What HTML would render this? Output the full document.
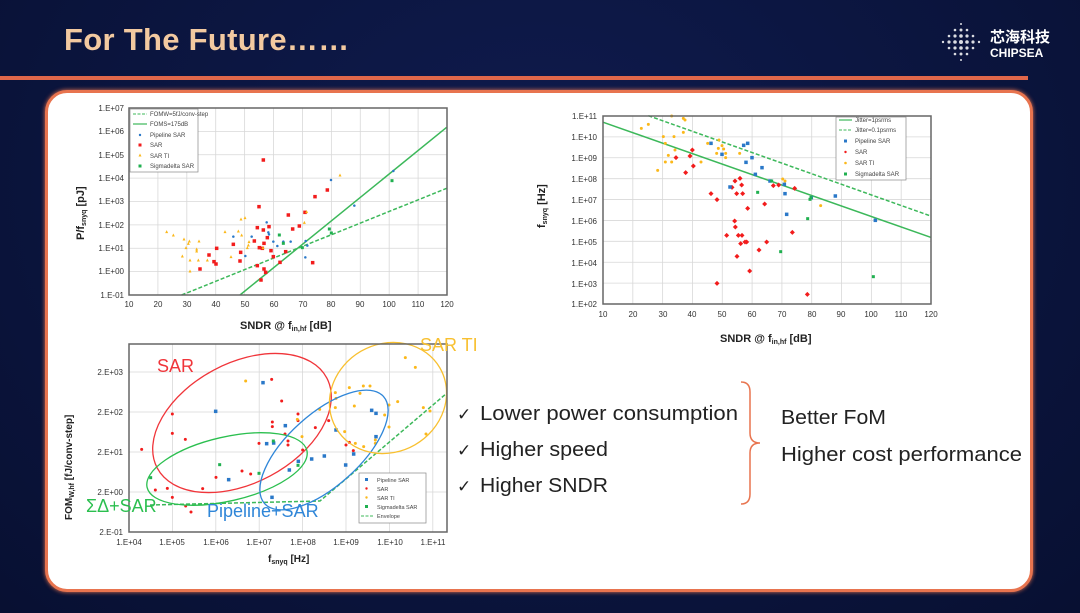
<!DOCTYPE html>
<html><head><meta charset="utf-8"><style>
html,body{margin:0;padding:0;width:1080px;height:613px;overflow:hidden;background:#0b1440;font-family:"Liberation Sans",sans-serif}
#bg{position:absolute;left:0;top:0;width:1080px;height:613px;background:radial-gradient(ellipse at 50% 30%,#0f1b4e,#081032)}
.t{position:absolute;white-space:nowrap}
</style></head><body><div id="bg"></div>
<div class="t" style="left:64px;top:22px;font-size:31px;font-weight:bold;color:#f2c9a0;letter-spacing:0.3px">For The Future……</div>
<div style="position:absolute;left:0;top:76px;width:1028px;height:4px;background:#e0674a"></div>
<div class="t" style="left:990px;top:26px;font-size:15px;color:#fff;font-family:'Liberation Sans','Noto Sans CJK SC',sans-serif;font-weight:bold">芯海科技</div>
<div class="t" style="left:990px;top:46px;font-size:12px;color:#fff;font-weight:bold">CHIPSEA</div>
<svg style="position:absolute;left:935px;top:20px" width="52" height="46"><g fill="#fff" opacity="0.85">
<circle cx="26" cy="4" r="1"/><circle cx="20" cy="10" r="1.3"/><circle cx="26" cy="10" r="1.5"/><circle cx="32" cy="10" r="1.3"/><circle cx="14" cy="16" r="1.3"/><circle cx="20" cy="16" r="1.6"/><circle cx="26" cy="16" r="1.8"/><circle cx="32" cy="16" r="1.6"/><circle cx="38" cy="16" r="1.3"/><circle cx="8" cy="22" r="1.2"/><circle cx="14" cy="22" r="1.6"/><circle cx="20" cy="22" r="1.8"/><circle cx="26" cy="22" r="2"/><circle cx="32" cy="22" r="1.8"/><circle cx="38" cy="22" r="1.6"/><circle cx="44" cy="22" r="1.2"/><circle cx="14" cy="28" r="1.3"/><circle cx="20" cy="28" r="1.6"/><circle cx="26" cy="28" r="1.8"/><circle cx="32" cy="28" r="1.6"/><circle cx="38" cy="28" r="1.3"/><circle cx="20" cy="34" r="1.3"/><circle cx="26" cy="34" r="1.5"/><circle cx="32" cy="34" r="1.3"/><circle cx="26" cy="40" r="1"/></g></svg>
<div style="position:absolute;left:45px;top:90px;width:982px;height:496px;border:3px solid #e8744f;border-radius:22px;background:#fff;box-shadow:0 0 4px #e8744f"></div>

<svg id="s" style="position:absolute;left:0;top:0" width="1080" height="613" font-family="Liberation Sans, sans-serif">
<g id="g1"></g>
<g font-size="8" fill="#333" text-anchor="end">
<text x="124" y="111">1.E+07</text><text x="124" y="134">1.E+06</text><text x="124" y="158">1.E+05</text><text x="124" y="181">1.E+04</text><text x="124" y="204">1.E+03</text><text x="124" y="228">1.E+02</text><text x="124" y="251">1.E+01</text><text x="124" y="274">1.E+00</text><text x="124" y="298">1.E-01</text>
</g>
<g font-size="8" fill="#333" text-anchor="middle">
<text x="129" y="307">10</text><text x="158" y="307">20</text><text x="187" y="307">30</text><text x="216" y="307">40</text><text x="245" y="307">50</text><text x="274" y="307">60</text><text x="303" y="307">70</text><text x="331" y="307">80</text><text x="360" y="307">90</text><text x="389" y="307">100</text><text x="418" y="307">110</text><text x="447" y="307">120</text>
</g>
<text x="240" y="329" font-size="11" font-weight="bold" fill="#222">SNDR @ f<tspan font-size="7" dy="2">in,hf</tspan><tspan dy="-2">  [dB]</tspan></text>
<text transform="translate(84,240) rotate(-90)" font-size="11" font-weight="bold" fill="#222">P/f<tspan font-size="7" dy="2">snyq</tspan><tspan dy="-2"> [pJ]</tspan></text>
<g font-size="6" fill="#444">
<text x="150" y="116">FOMW=5fJ/conv-step</text><text x="150" y="126">FOMS=175dB</text><text x="150" y="137">Pipeline SAR</text><text x="150" y="147">SAR</text><text x="150" y="158">SAR TI</text><text x="150" y="168">Sigmadelta SAR</text>
</g>
<g font-size="8" fill="#333" text-anchor="end">
<text x="597" y="119">1.E+11</text><text x="597" y="140">1.E+10</text><text x="597" y="161">1.E+09</text><text x="597" y="182">1.E+08</text><text x="597" y="203">1.E+07</text><text x="597" y="224">1.E+06</text><text x="597" y="245">1.E+05</text><text x="597" y="266">1.E+04</text><text x="597" y="287">1.E+03</text><text x="597" y="307">1.E+02</text>
</g>
<g font-size="8" fill="#333" text-anchor="middle">
<text x="603" y="317">10</text><text x="633" y="317">20</text><text x="663" y="317">30</text><text x="692" y="317">40</text><text x="722" y="317">50</text><text x="752" y="317">60</text><text x="782" y="317">70</text><text x="812" y="317">80</text><text x="841" y="317">90</text><text x="871" y="317">100</text><text x="901" y="317">110</text><text x="931" y="317">120</text>
</g>
<text x="720" y="342" font-size="11" font-weight="bold" fill="#222">SNDR @ f<tspan font-size="7" dy="2">in,hf</tspan><tspan dy="-2"> [dB]</tspan></text>
<text transform="translate(545,228) rotate(-90)" font-size="11" font-weight="bold" fill="#222">f<tspan font-size="7" dy="2">snyq</tspan><tspan dy="-2"> [Hz]</tspan></text>
<g font-size="6" fill="#444">
<text x="855" y="122">Jitter=1psrms</text><text x="855" y="132">Jitter=0.1psrms</text><text x="855" y="143">Pipeline SAR</text><text x="855" y="154">SAR</text><text x="855" y="165">SAR TI</text><text x="855" y="176">Sigmadelta SAR</text>
</g>
<g font-size="8" fill="#333" text-anchor="end">
<text x="123" y="375">2.E+03</text><text x="123" y="415">2.E+02</text><text x="123" y="455">2.E+01</text><text x="123" y="495">2.E+00</text><text x="123" y="535">2.E-01</text>
</g>
<g font-size="8" fill="#333" text-anchor="middle">
<text x="129" y="545">1.E+04</text><text x="172" y="545">1.E+05</text><text x="216" y="545">1.E+06</text><text x="259" y="545">1.E+07</text><text x="303" y="545">1.E+08</text><text x="346" y="545">1.E+09</text><text x="390" y="545">1.E+10</text><text x="433" y="545">1.E+11</text>
</g>
<text x="268" y="562" font-size="10" font-weight="bold" fill="#222">f<tspan font-size="7" dy="2">snyq</tspan><tspan dy="-2"> [Hz]</tspan></text>
<text transform="translate(72,520) rotate(-90)" font-size="10" font-weight="bold" fill="#222">FOM<tspan font-size="7" dy="2">W,hf</tspan><tspan dy="-2"> [fJ/conv-step]</tspan></text>
<g font-size="5.5" fill="#444">
<text x="377" y="482">Pipeline SAR</text><text x="377" y="491">SAR</text><text x="377" y="500">SAR TI</text><text x="377" y="509">Sigmadelta SAR</text><text x="377" y="518">Envelope</text>
</g>
<g font-family="Liberation Sans, sans-serif" font-size="18">
<text x="157" y="372" fill="#f0353a">SAR</text>
<text x="420" y="351" fill="#f8c030">SAR TI</text>
<text x="86" y="512" fill="#2bbf4f">ΣΔ+SAR</text>
<text x="207" y="517" fill="#2f86d8">Pipeline+SAR</text>
</g>
<g font-size="20" fill="#222">
<text x="457" y="420" font-size="17">✓</text><text x="480" y="420" textLength="258" lengthAdjust="spacingAndGlyphs">Lower power consumption</text>
<text x="457" y="456" font-size="17">✓</text><text x="480" y="456" textLength="128" lengthAdjust="spacingAndGlyphs">Higher speed</text>
<text x="457" y="492" font-size="17">✓</text><text x="480" y="492" textLength="128" lengthAdjust="spacingAndGlyphs">Higher SNDR</text>
<text x="781" y="424" textLength="105" lengthAdjust="spacingAndGlyphs">Better FoM</text>
<text x="781" y="461" textLength="241" lengthAdjust="spacingAndGlyphs">Higher cost performance</text>
</g>
<path d="M741,382 Q750,382 750,392 L750,433 Q750,443 760,443 Q750,443 750,453 L750,494 Q750,504 741,504" fill="none" stroke="#e8744f" stroke-width="1.5"/>
</svg>
<script>
var NS="http://www.w3.org/2000/svg",g=document.getElementById('g1');
function el(t,a){var e=document.createElementNS(NS,t);for(var k in a)e.setAttribute(k,a[k]);g.appendChild(e);return e;}
var RED="#f21c1c",BLUE="#2a78c8",YEL="#fbb81a",GRN="#20b050",LG="#3cb85a";
function plot(x0,y0,w,h,nx,ny){for(var i=1;i<ny;i++)el('line',{x1:x0,x2:x0+w,y1:y0+h*i/ny,y2:y0+h*i/ny,stroke:'#d8d8d8','stroke-width':0.8});
for(var i=1;i<nx;i++)el('line',{y1:y0,y2:y0+h,x1:x0+w*i/nx,x2:x0+w*i/nx,stroke:'#d8d8d8','stroke-width':0.8});}
function pts(ox,oy,arr,shape,col,sz){for(var i=0;i<arr.length;i++){var x=arr[i][0]/3+ox,y=arr[i][1]/3+oy;
if(shape=='sq')el('rect',{x:x-sz/2,y:y-sz/2,width:sz,height:sz,fill:col});
else if(shape=='c')el('circle',{cx:x,cy:y,r:sz/2,fill:col});
else if(shape=='tri')el('path',{d:'M'+x+','+(y-sz/2)+'l'+(sz/2)+','+sz+'h-'+sz+'z',fill:col});
else if(shape=='dia')el('path',{d:'M'+x+','+(y-sz/2)+'l'+(sz/2)+','+(sz/2)+'l-'+(sz/2)+','+(sz/2)+'l-'+(sz/2)+',-'+(sz/2)+'z',fill:col});}}
function ln(ox,oy,a,b,c,d,dash){var o={x1:a/3+ox,y1:b/3+oy,x2:c/3+ox,y2:d/3+oy,stroke:LG,'stroke-width':1.5};if(dash)o['stroke-dasharray']='4,2';el('line',o);}
plot(129,108,318,187,11,8);
ln(60,95,540,600,1160,97);ln(60,95,365,600,1160,280,1);
pts(60,95,[[610,195],[597,335],[765,305],[802,285],[685,360],[735,352],[718,393],[592,398],[627,395],[698,402],[610,405],[520,448],[583,438],[598,458],[612,445],[607,460],[622,428],[633,467],[640,485],[677,470],[542,472],[540,498],[470,460],[447,480],[462,500],[468,507],[420,522],[592,512],[612,522],[617,532],[603,555],[660,502],[758,503]],'sq',RED,3.5);
pts(60,95,[[620,382],[627,418],[520,425],[575,425],[640,440],[652,453],[670,440],[692,440],[556,483],[737,438],[742,452],[736,487],[813,255],[883,332],[1000,228],[625,412]],'c',BLUE,2.5);
pts(60,95,[[320,410],[340,420],[372,432],[388,438],[417,438],[385,445],[410,462],[378,458],[367,483],[410,468],[390,495],[415,495],[442,495],[390,528],[495,410],[535,408],[545,420],[543,372],[555,368],[513,485],[565,450],[562,458],[567,440],[609,458],[733,382],[840,240],[740,350]],'tri',YEL,3);
pts(60,95,[[658,420],[670,445],[727,458],[808,402],[814,414],[996,257]],'sq',GRN,3);
el('rect',{x:129,y:108,width:318,height:187,fill:'none',stroke:'#666','stroke-width':1.5});
el('rect',{x:130,y:109,width:68,height:63,fill:'#fff',stroke:'#888','stroke-width':0.7});
el('line',{x1:133,x2:147,y1:114,y2:114,stroke:LG,'stroke-dasharray':'3,1.5'});el('line',{x1:133,x2:147,y1:124,y2:124,stroke:LG,'stroke-width':1.2});
el('circle',{cx:140,cy:135,r:1.2,fill:BLUE});el('rect',{x:138.5,y:143.5,width:3,height:3,fill:RED});el('path',{d:'M140,153.5l1.5,3h-3z',fill:YEL});el('rect',{x:138.5,y:164.5,width:3,height:3,fill:GRN});
plot(603,116,328,188,11,9);
ln(520,95,250,82,1232,427);ln(520,95,385,62,1232,363,1);
pts(520,95,[[517,165],[468,188],[510,183],[497,233],[520,213],[573,296],[591,314],[636,277],[645,258],[660,250],[665,270],[650,296],[668,296],[683,340],[644,378],[646,396],[620,421],[655,421],[666,421],[662,446],[675,441],[680,441],[740,441],[717,465],[651,484],[689,528],[591,565],[862,598],[760,272],[776,270],[824,280],[734,327],[817,412]],'dia',RED,5);
pts(520,95,[[573,145],[606,178],[671,151],[683,145],[696,188],[678,202],[726,218],[706,238],[750,258],[793,268],[795,296],[630,276],[800,358],[874,308],[946,303],[1066,376]],'sq',BLUE,3.5);
pts(520,95,[[364,100],[385,88],[455,63],[490,70],[495,75],[490,112],[430,125],[462,125],[436,145],[465,165],[445,181],[436,201],[455,201],[413,226],[543,201],[563,145],[597,135],[606,152],[611,162],[617,175],[617,188],[590,175],[595,160],[659,175],[788,252],[795,258],[902,332]],'c',YEL,3);
pts(520,95,[[713,292],[755,258],[870,313],[873,308],[863,371],[782,470],[1060,545]],'sq',GRN,3);
el('rect',{x:603,y:116,width:328,height:188,fill:'none',stroke:'#666','stroke-width':1.5});
el('rect',{x:836,y:117,width:70,height:63,fill:'#fff',stroke:'#888','stroke-width':0.7});
el('line',{x1:839,x2:852,y1:120,y2:120,stroke:LG,'stroke-width':1.2});el('line',{x1:839,x2:852,y1:130,y2:130,stroke:LG,'stroke-dasharray':'3,1.5'});
el('rect',{x:844,y:139.5,width:3,height:3,fill:BLUE});el('circle',{cx:845.5,cy:152,r:1.2,fill:RED});el('circle',{cx:845.5,cy:163,r:1.3,fill:YEL});el('rect',{x:844,y:172.5,width:3,height:3,fill:GRN});
plot(129,332,318,200,1,5);
for(var i=1;i<8;i++){var x=129+43.4*i;el('line',{x1:x,x2:x,y1:344,y2:532,stroke:'#d8d8d8','stroke-width':0.8});}
el('polyline',{points:'150,505 320,501 447,393',fill:'none',stroke:LG,'stroke-width':1.5,'stroke-dasharray':'4,2'});
pts(60,330,[[245,358],[337,252],[337,310],[376,328],[286,480],[322,475],[337,502],[377,528],[393,546],[428,476],[468,442],[546,423],[572,432],[597,340],[635,148],[637,276],[637,290],[665,213],[675,312],[684,333],[684,345],[714,272],[714,252],[728,360],[766,293],[806,272],[858,345],[868,337],[880,362]],'c',RED,3);
pts(60,330,[[467,244],[609,158],[676,287],[620,341],[641,339],[506,449],[688,420],[715,394],[755,387],[793,378],[636,502],[828,300],[857,405],[881,372],[935,241],[948,250],[948,320]],'sq',BLUE,3.5);
pts(60,330,[[557,153],[779,238],[826,188],[828,205],[826,233],[868,173],[900,190],[910,168],[930,168],[883,228],[854,305],[886,340],[911,350],[946,330],[946,340],[974,255],[987,225],[987,291],[1013,215],[1036,83],[1066,112],[1090,233],[1110,243],[1098,312],[726,320],[712,268]],'c',YEL,3);
pts(60,330,[[272,443],[479,404],[597,430],[640,333],[714,406]],'sq',GRN,3);
el('ellipse',{cx:242,cy:423,rx:96,ry:60,transform:'rotate(-28 242 423)',fill:'none',stroke:'#f0353a','stroke-width':1.3});
el('ellipse',{cx:227,cy:469,rx:82,ry:32,transform:'rotate(-13 227 469)',fill:'none',stroke:'#2bbf4f','stroke-width':1.3});
el('ellipse',{cx:324,cy:450,rx:80,ry:36,transform:'rotate(-42 324 450)',fill:'none',stroke:'#2f86d8','stroke-width':1.3});
el('ellipse',{cx:388,cy:398,rx:60,ry:54,transform:'rotate(-30 388 398)',fill:'none',stroke:'#f8c030','stroke-width':1.3});
el('rect',{x:129,y:344,width:318,height:188,fill:'none',stroke:'#666','stroke-width':1.5});
el('rect',{x:359,y:473,width:67,height:50,fill:'#fff',stroke:'#888','stroke-width':0.7});
el('rect',{x:365,y:478,width:3,height:3,fill:BLUE});el('circle',{cx:366.5,cy:488.5,r:1.2,fill:RED});el('circle',{cx:366.5,cy:497.5,r:1.2,fill:YEL});el('rect',{x:365,y:505,width:3,height:3,fill:GRN});
el('line',{x1:361,x2:373,y1:516,y2:516,stroke:LG,'stroke-dasharray':'3,1.5'});
</script>
</body></html>
